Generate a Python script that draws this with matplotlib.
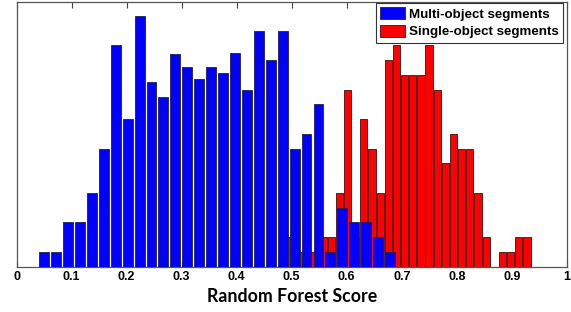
import matplotlib
matplotlib.use("Agg")
import matplotlib.pyplot as plt
import numpy as np

# Histogram data (estimated counts from the picture)
multi_start = 0.050
multi_step = 0.02168
multi_counts = [1, 1, 3, 3, 5, 8, 15, 10, 17, 12.5, 11.5, 14.4, 13.5, 12.7, 13.5,
                13.1, 14.5, 12, 16, 14, 16, 8, 9, 11, 1, 4, 3, 3, 2, 1]

single_start = 0.4975
single_step = 0.01484
single_counts = [2, 1, 1, 1, 2, 2, 5, 12, 2, 10, 8, 5, 14, 15, 13, 13, 13, 15, 12,
                 7, 9, 8, 8, 5, 2, 0, 1, 1, 2, 2]

xticks = [0, 0.1, 0.2, 0.3, 0.4, 0.5, 0.6, 0.7, 0.8, 0.9, 1]
xtick_labels = ["0", "0.1", "0.2", "0.3", "0.4", "0.5", "0.6", "0.7", "0.8", "0.9", "1"]
labels = ["Multi-object segments", "Single-object segments"]
xlabel = "Random Forest Score"

multi_x = multi_start + multi_step * np.arange(len(multi_counts))
single_x = single_start + single_step * np.arange(len(single_counts))

fig = plt.figure(figsize=(5.71, 3.12), dpi=100)
ax = fig.add_axes([0.0292, 0.1452, 0.9633, 0.8468])

hr = ax.bar(single_x, single_counts, width=single_step * 0.88, color="#ff0000",
            edgecolor="#3a1010", linewidth=0.6, zorder=2, label=labels[1])
hb = ax.bar(multi_x, multi_counts, width=multi_step * 0.83, color="#0000ff",
            edgecolor="#20204a", linewidth=0.6, zorder=3, label=labels[0])

ax.set_xlim(0, 1)
ax.set_ylim(0, 17.9)
ax.set_yticks([])
ax.set_xticks(xticks)
ax.set_xticklabels(xtick_labels, fontfamily="Liberation Sans", fontweight="bold", fontsize=9)
ax.tick_params(axis="x", direction="in", length=4, width=0.8, color="#444444",
               top=True, bottom=True, pad=3)
for s in ax.spines.values():
    s.set_color("#555555")
    s.set_linewidth(0.9)

ax.set_xlabel(xlabel, fontfamily="Lato", fontweight="bold", fontsize=12.8, labelpad=4)

leg = ax.legend([hb, hr], labels, loc="upper right", bbox_to_anchor=(0.9935, 0.999),
                borderaxespad=0, prop={"family": "Liberation Sans", "weight": "bold", "size": 9.6},
                handlelength=1.9, handleheight=1.05, handletextpad=0.3, borderpad=0.32,
                labelspacing=0.3, fancybox=False, framealpha=1)
leg.get_frame().set_edgecolor("#333333")
leg.get_frame().set_linewidth(0.8)

fig.savefig("out.png", dpi=100)
